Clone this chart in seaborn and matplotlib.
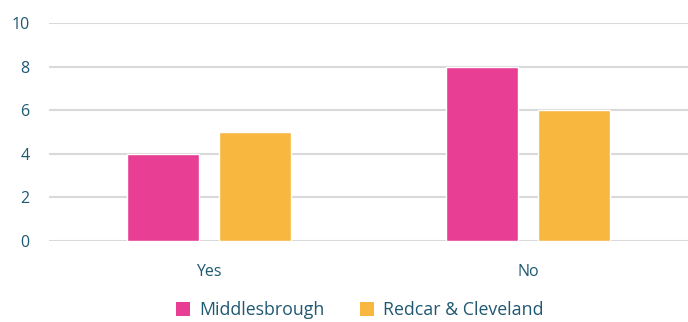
import matplotlib
matplotlib.use("Agg")
import matplotlib.pyplot as plt
import seaborn as sns
import pandas as pd
from matplotlib.patches import Patch

categories = ["Yes", "No"]
series_names = ["Middlesbrough", "Redcar & Cleveland"]
middlesbrough = [4, 8]
redcar = [5, 6]
y_ticks = [0, 2, 4, 6, 8, 10]

colors = ["#E83F94", "#F8B73F"]
text_color = "#1F5872"

df = pd.DataFrame({
    "cat": categories * 2,
    "series": [series_names[0]] * 2 + [series_names[1]] * 2,
    "val": middlesbrough + redcar,
})

sns.set_theme(style="white")
plt.rcParams["font.family"] = ["Open Sans", "DejaVu Sans"]

fig = plt.figure(figsize=(6.88, 3.22), dpi=100)
ax = fig.add_axes([0.0712, 0.2516, 0.9288, 0.677])

sns.barplot(data=df, x="cat", y="val", hue="series", palette=colors,
            width=0.575, gap=0.217, ax=ax, legend=False, saturation=1)

ax.set_ylim(0, 10)
ax.set_xlim(-0.5, 1.5)
ax.set_yticks(y_ticks)
ax.set_yticklabels([str(t) for t in y_ticks])
ax.yaxis.grid(True, color="#D9D9D9", linewidth=1.5)
ax.set_axisbelow(True)
for s in ax.spines.values():
    s.set_visible(False)
ax.set_xlabel("")
ax.set_ylabel("")
ax.tick_params(axis="y", length=0, pad=14, labelsize=11.5, labelcolor=text_color)
ax.tick_params(axis="x", length=0, pad=16.5, labelsize=11.5, labelcolor=text_color)

handles = [Patch(facecolor=c, edgecolor="none") for c in colors]
fig.legend(handles, series_names, loc="center", bbox_to_anchor=(0.523, 0.036),
           ncol=2, frameon=False, fontsize=12.8, handlelength=0.8, handleheight=0.8,
           handletextpad=0.5, columnspacing=2.0, labelcolor=text_color,
           borderpad=0.1)

fig.savefig("out.png", dpi=100)
